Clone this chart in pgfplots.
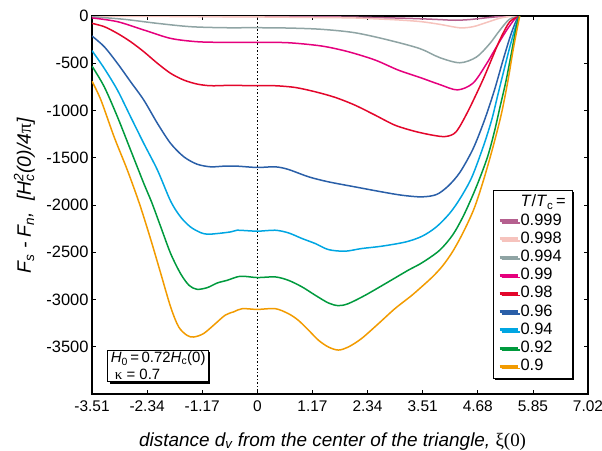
\documentclass[border=0pt]{standalone}
\usepackage{fontspec}
\setmainfont{Liberation Sans}
\newfontfamily\grk{Liberation Serif}
\usepackage{pgfplots}
\pgfplotsset{compat=1.18}
\usetikzlibrary{shadows}
\definecolor{c999}{HTML}{B5608F}
\definecolor{c998}{HTML}{F6C3BD}
\definecolor{c994}{HTML}{8FA4A4}
\definecolor{c99}{HTML}{E5007D}
\definecolor{c98}{HTML}{E3062B}
\definecolor{c96}{HTML}{2A5FA8}
\definecolor{c94}{HTML}{00A6E2}
\definecolor{c92}{HTML}{009A3D}
\definecolor{c90}{HTML}{F29B00}
\begin{document}
\begin{tikzpicture}
\path[use as bounding box] (-92bp,-57bp) rectangle (510bp,394bp);
\begin{axis}[
  at={(0,0)}, anchor=south west,
  scale only axis, width=496bp, height=378bp,
  xmin=-3.51, xmax=7.02, ymin=-4000, ymax=0,
  xtick={-3.51,-2.34,-1.17,0,1.17,2.34,3.51,4.68,5.85,7.02},
  xticklabels={-3.51,-2.34,-1.17,0,1.17,2.34,3.51,4.68,5.85,7.02},
  ytick={-3500,-3000,-2500,-2000,-1500,-1000,-500,0},
  yticklabels={-3500,-3000,-2500,-2000,-1500,-1000,-500,0},
  tick align=inside, major tick length=4bp,
  axis line style={line width=1.2bp},
  tick style={black, line width=0.8bp},
  xticklabel style={font=\fontsize{15.5}{15.5}\selectfont, yshift=-3bp},
  yticklabel style={font=\fontsize{16.5}{16.5}\selectfont},
  xlabel={\itshape distance d\textsubscript{v} from the center of the triangle, {\upshape\grk ξ(0)}},
  ylabel={\itshape F\textsubscript{s} - F\textsubscript{n},\ \ [H\rlap{\textsubscript{c}}\textsuperscript{2}(0)/4{\upshape\grk π}]},
  xlabel style={at={(axis description cs:0.485,0)}, anchor=base, yshift=-52bp, font=\fontsize{19}{19}\selectfont},
  ylabel style={at={(axis description cs:-0.123,0.524)}, anchor=base, font=\fontsize{19.5}{19.5}\selectfont},
  every axis plot/.append style={line width=1.5bp, smooth, tension=0.5},
  legend cell align=left,
  legend image code/.code={\draw[#1, line width=3bp] (0bp,0bp) -- (18bp,0bp);},
  legend style={at={(0.969,0.04)}, anchor=south east, draw=black, line width=0.8bp, fill=white,
    drop shadow={shadow xshift=2bp, shadow yshift=-2bp, fill=black, opacity=1},
    font=\fontsize{16.5}{16.5}\selectfont,
    nodes={inner sep=1.5bp, text height=12bp, text depth=3.2bp},
    inner xsep=5bp, inner ysep=3bp},
]
\addplot[black, dotted, line width=0.6bp, sharp plot, forget plot] coordinates {(0,-4000) (0,0)};
\addlegendimage{empty legend}
\addlegendentry{\textit{T}/\textit{T}\textsubscript{c}\,=}
% 0.999
\addplot[c999] coordinates {(-3.51,-1) (-2,-2) (0,-4) (1,-7) (2,-12) (3,-22) (3.5,-30) (3.87,-38) (4.2,-45) (4.5,-38) (4.8,-22) (5.1,-8) (5.45,0) (5.57,0)};
\addlegendentry{0.999}
% 0.998
\addplot[c998] coordinates {(-3.51,-3) (-2,-5) (0,-10) (1,-15) (2,-20) (2.5,-30) (3,-42) (3.48,-60) (3.87,-88) (4.3,-125) (4.58,-113) (4.86,-70) (5.14,-24) (5.4,-2) (5.57,0)};
\addlegendentry{0.998}
% 0.994
\addplot[c994] coordinates {(-3.51,-8) (-2.83,-35) (-2.12,-78) (-1.42,-113) (-0.71,-124) (0,-124) (0.7,-128) (1.37,-141) (2.07,-177) (2.78,-254) (3.45,-345) (3.87,-440) (4.3,-495) (4.65,-435) (4.93,-295) (5.14,-156) (5.35,-35) (5.57,0)};
\addlegendentry{0.994}
% 0.99
\addplot[c99] coordinates {(-3.51,-20) (-2.97,-60) (-2.41,-148) (-1.84,-237) (-1.28,-272) (-0.71,-279) (0,-279) (0.66,-283) (1.37,-318) (1.93,-378) (2.5,-466) (2.99,-572) (3.45,-650) (3.87,-725) (4.25,-782) (4.58,-710) (4.86,-510) (5.07,-332) (5.28,-160) (5.46,-35) (5.57,0)};
\addlegendentry{0.99}
% 0.98
\addplot[c98] coordinates {(-3.51,-78) (-3.25,-113) (-2.97,-184) (-2.69,-272) (-2.41,-378) (-2.12,-501) (-1.84,-607) (-1.56,-678) (-1.28,-720) (-0.99,-738) (-0.57,-734) (0,-738) (0.38,-738) (0.8,-756) (1.23,-802) (1.65,-861) (2.07,-943) (2.5,-1049) (2.92,-1155) (3.34,-1220) (3.73,-1262) (4.0,-1275) (4.22,-1225) (4.47,-1010) (4.78,-685) (4.98,-450) (5.16,-240) (5.36,-60) (5.57,0)};
\addlegendentry{0.98}
% 0.96
\addplot[c96] coordinates {(-3.51,-212) (-3.25,-325) (-2.97,-501) (-2.69,-696) (-2.41,-890) (-2.12,-1137) (-1.84,-1349) (-1.56,-1490) (-1.28,-1568) (-0.99,-1596) (-0.71,-1589) (-0.43,-1589) (0,-1603) (0.38,-1596) (0.66,-1624) (1.09,-1702) (1.51,-1755) (2.07,-1808) (2.64,-1861) (3.06,-1896) (3.48,-1914) (3.8,-1890) (4.05,-1800) (4.3,-1655) (4.58,-1405) (4.82,-1105) (5.03,-790) (5.22,-460) (5.38,-200) (5.5,-45) (5.57,0)};
\addlegendentry{0.96}
% 0.94
\addplot[c94] coordinates {(-3.51,-367) (-3.25,-554) (-2.97,-784) (-2.69,-1067) (-2.41,-1349) (-2.12,-1631) (-1.84,-1960) (-1.63,-2126) (-1.42,-2232) (-1.21,-2291) (-1.06,-2309) (-0.85,-2302) (-0.57,-2285) (-0.43,-2267) (0,-2277) (0.38,-2267) (0.66,-2295) (0.95,-2355) (1.23,-2408) (1.51,-2472) (1.86,-2489) (2.21,-2461) (2.64,-2436) (3.15,-2391) (3.5,-2330) (3.8,-2232) (4.08,-2090) (4.3,-1935) (4.55,-1710) (4.79,-1391) (4.97,-1109) (5.11,-826) (5.25,-544) (5.37,-310) (5.5,-85) (5.57,0)};
\addlegendentry{0.94}
% 0.92
\addplot[c92] coordinates {(-3.51,-530) (-3.25,-749) (-2.97,-1067) (-2.69,-1419) (-2.41,-1772) (-2.24,-1975) (-2.05,-2232) (-1.84,-2514) (-1.63,-2726) (-1.45,-2850) (-1.28,-2892) (-1.06,-2874) (-0.85,-2825) (-0.64,-2797) (-0.36,-2754) (0,-2768) (0.38,-2761) (0.66,-2797) (0.95,-2867) (1.23,-2955) (1.51,-3037) (1.72,-3065) (1.93,-3044) (2.29,-2955) (2.78,-2814) (3.2,-2691) (3.5,-2610) (3.87,-2479) (4.15,-2315) (4.37,-2120) (4.58,-1890) (4.75,-1680) (4.9,-1470) (5.03,-1230) (5.15,-967) (5.28,-685) (5.39,-403) (5.51,-85) (5.57,0)};
\addlegendentry{0.92}
% 0.9
\addplot[c90] coordinates {(-3.51,-690) (-3.32,-890) (-3.04,-1280) (-2.76,-1630) (-2.5,-1990) (-2.26,-2370) (-2.05,-2725) (-1.84,-3080) (-1.67,-3290) (-1.49,-3380) (-1.35,-3397) (-1.14,-3360) (-0.89,-3255) (-0.68,-3165) (-0.5,-3130) (-0.32,-3097) (0,-3105) (0.38,-3097) (0.66,-3150) (0.87,-3220) (1.09,-3326) (1.3,-3432) (1.51,-3503) (1.72,-3535) (1.93,-3503) (2.21,-3414) (2.57,-3256) (2.92,-3097) (3.27,-2960) (3.5,-2860) (3.73,-2755) (3.94,-2640) (4.15,-2490) (4.37,-2290) (4.6,-2040) (4.8,-1740) (5.0,-1391) (5.18,-1038) (5.32,-685) (5.44,-332) (5.57,0)};
\addlegendentry{0.9}
\node[draw=black, line width=0.8bp, fill=white, drop shadow={shadow xshift=2bp, shadow yshift=-2bp, fill=black, opacity=1},
  anchor=south west, align=left, font=\fontsize{15}{17}\selectfont, inner xsep=3bp, inner ysep=2bp]
  at (rel axis cs:0.031,0.031) {\textit{H}\textsubscript{0}\,=\,0.72\textit{H}\textsubscript{c}(0)\\ \ {\grk κ} = 0.7};
\end{axis}
\end{tikzpicture}
\end{document}
